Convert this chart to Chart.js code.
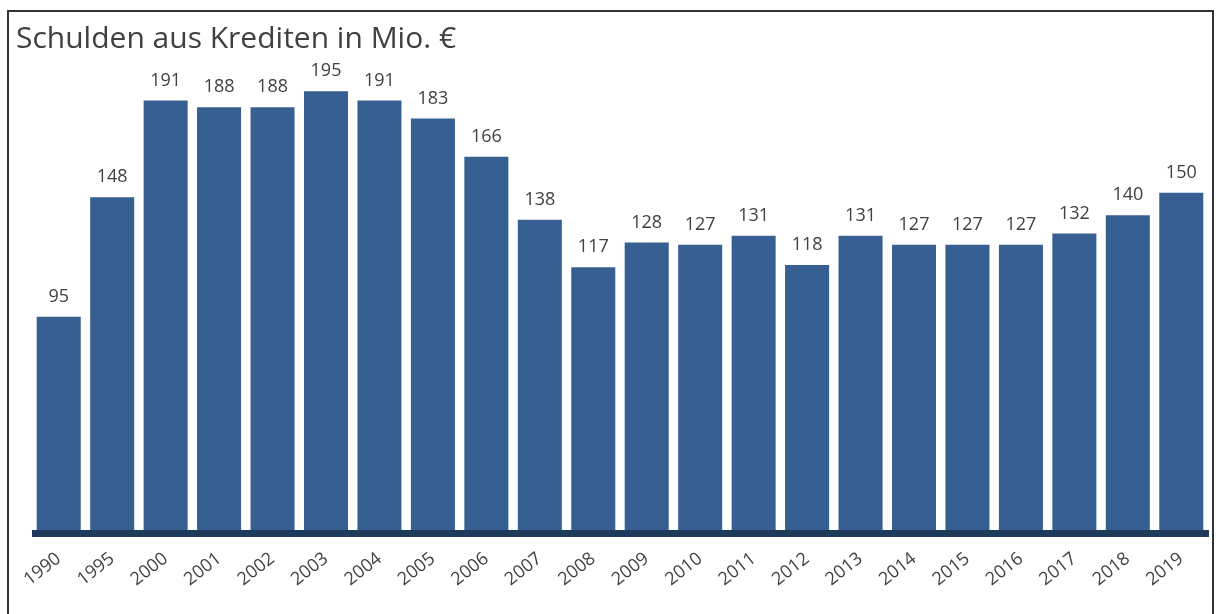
<!DOCTYPE html>
<html>
<head>
<meta charset="utf-8">
<script src="https://cdn.jsdelivr.net/npm/chart.js@4/dist/chart.umd.min.js"></script>
<style>
  html, body { margin: 0; padding: 0; background: #fff; }
  #wrap { width: 1218px; height: 614px; position: relative; }
</style>
</head>
<body>
<div id="wrap"><canvas id="chart"></canvas></div>
<script>
const TITLE = "Schulden aus Krediten in Mio. €";
const YEARS = ["1990", "1995", "2000", "2001", "2002", "2003", "2004", "2005", "2006", "2007", "2008",
  "2009", "2010", "2011", "2012", "2013", "2014", "2015", "2016", "2017", "2018", "2019"];
const DEBT = [95, 148, 191, 188, 188, 195, 191, 183, 166, 138, 117,
  128, 127, 131, 118, 131, 127, 127, 127, 132, 140, 150];

const BAR = "#375f91";
const AXIS = "#1f3b5c";
const TEXT = "#404040";

// frame, title and the thick baseline under the bars
const frame = {
  id: "frame",
  afterDatasetsDraw(chart) {
    const { ctx, chartArea } = chart;
    ctx.save();
    ctx.fillStyle = AXIS;
    ctx.fillRect(chartArea.left, chartArea.bottom - 1, chartArea.right - chartArea.left + 1, 7);
    ctx.restore();
  },
  afterDraw(chart) {
    const { ctx } = chart;
    ctx.save();
    ctx.strokeStyle = "#333";
    ctx.lineWidth = 2;
    ctx.strokeRect(8, 11, 1205, 610);
    ctx.fillStyle = TEXT;
    ctx.font = "30px 'Open Sans'";
    ctx.textBaseline = "alphabetic";
    ctx.fillText(TITLE, 16, 48);
    ctx.restore();
  }
};

// value above each bar
const valueLabels = {
  id: "valueLabels",
  afterDatasetsDraw(chart) {
    const { ctx } = chart;
    const meta = chart.getDatasetMeta(0);
    ctx.save();
    ctx.fillStyle = TEXT;
    ctx.font = "18px 'Open Sans'";
    ctx.textAlign = "center";
    ctx.textBaseline = "bottom";
    meta.data.forEach((bar, i) => {
      ctx.fillText(DEBT[i], bar.x, bar.y - 11);
    });
    ctx.restore();
  }
};

new Chart(document.getElementById("chart"), {
  type: "bar",
  data: {
    labels: YEARS,
    datasets: [{ data: DEBT, backgroundColor: BAR, barPercentage: 0.9, categoryPercentage: 0.915 }],
  },
  options: {
    responsive: true,
    maintainAspectRatio: false,
    animation: false,
    layout: { padding: { left: 32, right: 10, top: 35, bottom: 20 } },
    plugins: { legend: { display: false }, tooltip: { enabled: false }, title: { display: false } },
    scales: {
      x: {
        grid: { display: false, drawTicks: false },
        border: { display: false },
        ticks: { color: TEXT, font: { family: "Open Sans", size: 18 }, maxRotation: 38, minRotation: 38, autoSkip: false, padding: 17 },
        afterFit: s => { s.height = 63; },
      },
      y: { display: false, min: 0, max: 220 },
    },
  },
  plugins: [frame, valueLabels],
});
</script>
</body>
</html>
